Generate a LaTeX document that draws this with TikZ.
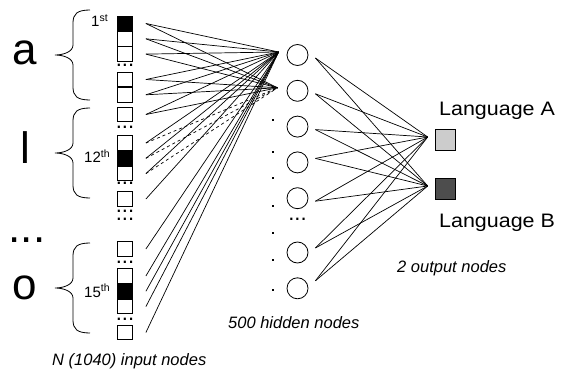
\documentclass[tikz,border=0pt]{standalone}
\usepackage{fontspec}
\setmainfont{Liberation Sans}
\newfontfamily\widefont[FakeStretch=1.1]{Liberation Sans}
\usetikzlibrary{positioning,calc}
\definecolor{langA}{HTML}{CCCCCC}
\definecolor{langB}{HTML}{4D4D4D}
\tikzset{
    cell/.style={draw, fill=white, minimum width=15pt, minimum height=14.5pt, inner sep=0pt, line width=0.8pt},
    oncell/.style={cell, fill=black},
    hidden/.style={draw, circle, minimum size=21pt, inner sep=0pt, line width=0.8pt},
    outbox/.style={draw, minimum width=20pt, minimum height=21pt, inner sep=0pt, line width=0.6pt},
    link/.style={line width=0.7pt},
    dashlink/.style={link, dash pattern=on 3pt off 3pt},
    letter/.style={font=\fontsize{44}{44}\selectfont, inner sep=0pt},
    dotrow/.style={font=\fontsize{22}{8}\selectfont, inner sep=0pt, anchor=base},
    caption/.style={font=\fontsize{16.5}{18}\selectfont\itshape, inner sep=0pt, anchor=base west},
    langname/.style={font=\widefont\fontsize{19.5}{21}\selectfont, inner sep=0pt, anchor=base west},
    rank/.style={font=\fontsize{15}{15}\selectfont, inner sep=0pt, anchor=base west},
    gapdot/.style={fill, minimum size=2pt, inner sep=0pt},
    langbrace/.pic={\draw[line width=0.8pt] (35,-45) .. controls (22,-45) and (18,-41) .. (18,-32) -- (18,-10) .. controls (18,-3) and (8,0) .. (0,0) .. controls (8,0) and (18,3) .. (18,10) -- (18,32) .. controls (18,41) and (22,45) .. (35,45);}
}
\begin{document}
\begin{tikzpicture}[x=1pt, y=-1pt]
\useasboundingbox (0,0) rectangle (564,371);

\node[letter] (la) at (25,52.5) {a};
\node[letter] (ll) at (25.5,147.5) {l};
\node[letter] (lo) at (25,287.5) {o};
\node[letter, anchor=base] (lmore) at (27,242) {...};
\pic at (55,55) {langbrace};
\pic at (55,153) {langbrace};
\pic at (55,288) {langbrace};

\node[oncell] (c1) at (125,23.5) {};
\node[cell, below=0pt of c1] (c2) {};
\node[cell, below=0pt of c2] (c3) {};
\node[dotrow] (v1) at (125,66.5) {...};
\node[cell] (c4) at (125,79.5) {};
\node[cell, below=0pt of c4] (c5) {};
\node[cell] (c6) at (125,114.5) {};
\node[dotrow] (v2) at (125,128.5) {...};
\node[cell] (c7) at (125,143) {};
\node[oncell, below=0pt of c7] (c8) {};
\node[cell, below=0pt of c8] (c9) {};
\node[dotrow] (v3) at (125,184.5) {...};
\node[cell] (c10) at (125,199) {};
\node[dotrow, align=center] (v4) at (125,220.5) {...\\...};
\node[cell] (c11) at (125,249) {};
\node[dotrow] (v6) at (125,263.5) {...};
\node[cell] (c12) at (125,276) {};
\node[oncell, below=0pt of c12] (c13) {};
\node[cell, below=0pt of c13] (c14) {};
\node[dotrow] (v7) at (125,320.5) {...};
\node[cell] (c15) at (125,332.5) {};

\node[rank] (r1) at (91,27) {1\textsuperscript{st}};
\node[rank] (r12) at (84,163) {12\textsuperscript{th}};
\node[rank] (r15) at (84,297) {15\textsuperscript{th}};

\node[hidden] (h1) at (297.5,55) {};
\node[hidden, below=14pt of h1] (h2) {};
\node[hidden, below=14pt of h2] (h3) {};
\node[hidden, below=14pt of h3] (h4) {};
\node[hidden, below=14pt of h4] (h5) {};
\node[dotrow] (v8) at (297.5,220.5) {...};
\node[hidden] (h6) at (297.5,252.5) {};
\node[hidden, below=14pt of h6] (h7) {};
\foreach \y [count=\i] in {120,152,178,206,233,260,290}
    \node[gapdot] (g\i) at (273,\y) {};

\node[outbox, fill=langA] (oa) at (445,139.5) {};
\node[outbox, fill=langB] (ob) at (445,188.5) {};
\node[langname] (na) at (439,116) {Language A};
\node[langname] (nb) at (439,227) {Language B};

\coordinate (h1in) at ([xshift=-8pt,yshift=3pt]h1.west);
\coordinate (h2in) at ([xshift=-9pt,yshift=3pt]h2.west);
\coordinate (oain) at ([xshift=-7pt,yshift=2.5pt]oa.west);
\coordinate (obin) at ([xshift=-7pt,yshift=2.5pt]ob.west);

\foreach \i in {1,...,6} {
    \draw[link] ([xshift=13pt]c\i.east) -- (h1in);
    \draw[link] ([xshift=13pt]c\i.east) -- (h2in);
}
\foreach \i in {7,8,9} {
    \draw[link] ([xshift=13pt]c\i.east) -- (h1in);
    \draw[dashlink] ([xshift=13pt]c\i.east) -- (h2in);
}
\foreach \i in {10,...,15}
    \draw[link] ([xshift=13pt]c\i.east) -- (h1in);
\foreach \h/\s in {h1/-3,h2/-3,h3/-3,h4/4,h5/-3,h6/4.5,h7/7.5} {
    \draw[link] ([xshift=7pt,yshift=\s pt]\h.east) -- (oain);
    \draw[link] ([xshift=7pt,yshift=\s pt]\h.east) -- (obin);
}

\node[caption] (capin) at (52,365) {N (1040) input nodes};
\node[caption] (caphid) at (228,328) {500 hidden nodes};
\node[caption] (capout) at (397,272) {2 output nodes};
\end{tikzpicture}
\end{document}
